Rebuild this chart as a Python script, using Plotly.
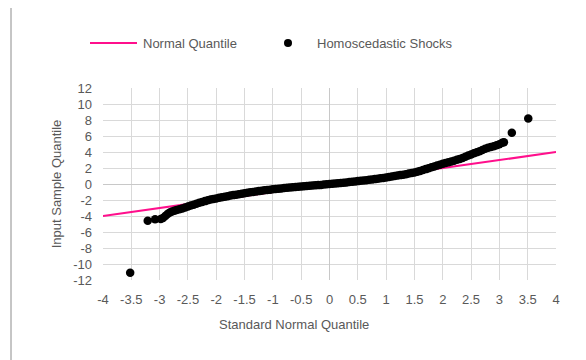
import plotly.graph_objects as go

# Normal reference line endpoints (theoretical quantile = sample quantile)
normal_x = [-4, 4]
normal_y = [-4, 4]

# Homoscedastic shocks: (standard normal quantile, input sample quantile)
shock_x = [
    -3.52, -3.21, -3.08, -2.98, -2.94, -2.90, -2.86, -2.82, -2.78, -2.74, -2.70, -2.65,
    -2.60, -2.55, -2.50, -2.45, -2.40, -2.35, -2.30, -2.25, -2.20, -2.15, -2.10, -2.05,
    -2.00, -1.95, -1.90, -1.85, -1.80, -1.75, -1.70, -1.65, -1.60, -1.55, -1.50, -1.45,
    -1.40, -1.35, -1.30, -1.25, -1.20, -1.15, -1.10, -1.05, -1.00, -0.95, -0.90, -0.85,
    -0.80, -0.75, -0.70, -0.65, -0.60, -0.55, -0.50, -0.45, -0.40, -0.35, -0.30, -0.25,
    -0.20, -0.15, -0.10, -0.05, 0.00, 0.05, 0.10, 0.15, 0.20, 0.25, 0.30, 0.35,
    0.40, 0.45, 0.50, 0.55, 0.60, 0.65, 0.70, 0.75, 0.80, 0.85, 0.90, 0.95,
    1.00, 1.05, 1.10, 1.15, 1.20, 1.25, 1.30, 1.35, 1.40, 1.45, 1.50, 1.55,
    1.60, 1.65, 1.70, 1.75, 1.80, 1.85, 1.90, 1.95, 2.00, 2.05, 2.10, 2.15,
    2.20, 2.25, 2.30, 2.35, 2.40, 2.45, 2.50, 2.55, 2.60, 2.65, 2.70, 2.75,
    2.80, 2.85, 2.90, 2.95, 3.00, 3.05, 3.08, 3.22, 3.51,
]
shock_y = [
    -11.1, -4.60, -4.40, -4.38, -4.25, -4.00, -3.75, -3.55, -3.43, -3.33, -3.25, -3.15,
    -3.05, -2.93, -2.82, -2.70, -2.58, -2.46, -2.35, -2.24, -2.14, -2.04, -1.95, -1.86,
    -1.80, -1.73, -1.66, -1.59, -1.52, -1.45, -1.39, -1.33, -1.27, -1.21, -1.15, -1.09,
    -1.04, -0.99, -0.94, -0.89, -0.84, -0.79, -0.75, -0.71, -0.67, -0.63, -0.59, -0.55,
    -0.51, -0.48, -0.44, -0.41, -0.38, -0.35, -0.32, -0.29, -0.26, -0.23, -0.20, -0.17,
    -0.14, -0.11, -0.07, -0.04, -0.01, 0.02, 0.05, 0.09, 0.12, 0.16, 0.20, 0.24,
    0.28, 0.32, 0.36, 0.40, 0.44, 0.48, 0.52, 0.57, 0.61, 0.66, 0.71, 0.76,
    0.81, 0.87, 0.93, 0.99, 1.05, 1.11, 1.17, 1.23, 1.30, 1.37, 1.45, 1.54,
    1.64, 1.75, 1.86, 1.97, 2.08, 2.19, 2.30, 2.41, 2.52, 2.62, 2.72, 2.82,
    2.92, 3.03, 3.14, 3.26, 3.40, 3.55, 3.70, 3.85, 3.98, 4.10, 4.25, 4.40,
    4.52, 4.62, 4.72, 4.85, 4.98, 5.15, 5.22, 6.40, 8.20,
]

x_tickvals = [-4, -3.5, -3, -2.5, -2, -1.5, -1, -0.5, 0, 0.5, 1, 1.5, 2, 2.5, 3, 3.5, 4]
x_ticktext = ["-4", "-3.5", "-3", "-2.5", "-2", "-1.5", "-1", "-0.5", "0", "0.5", "1",
              "1.5", "2", "2.5", "3", "3.5", "4"]
y_tickvals = [-12, -10, -8, -6, -4, -2, 0, 2, 4, 6, 8, 10, 12]
y_ticktext = ["-12", "-10", "-8", "-6", "-4", "-2", "0", "2", "4", "6", "8", "10", "12"]

PINK = "#ff0f8c"
TXT = "#595959"
GRID = "#d9d9d9"
FONT = "Liberation Sans, Arial, sans-serif"

fig = go.Figure()
fig.add_trace(go.Scatter(
    x=normal_x, y=normal_y, mode="lines", name="Normal Quantile",
    line=dict(color=PINK, width=2.2), showlegend=False, hoverinfo="skip",
))
fig.add_trace(go.Scatter(
    x=shock_x, y=shock_y, mode="markers", name="Homoscedastic Shocks",
    marker=dict(color="black", size=8.5, line=dict(width=0)), showlegend=False,
))

# page offset (default body margin of the html page)
OFF = 8
W, H = 586 - OFF, 360 - OFF
L, R, T, B = 103 - OFF, 30, 88 - OFF, 80
pw, ph = W - L - R, H - T - B


def px(xp):
    # xp: page pixel x in the reference
    return (xp - OFF - L) / pw


def py(yp):
    # yp: page pixel y in the reference
    return (H - B - (yp - OFF)) / ph


fig.update_layout(
    width=W, height=H,
    margin=dict(l=L, r=R, t=T, b=B),
    paper_bgcolor="white", plot_bgcolor="white",
    font=dict(family=FONT, size=13, color=TXT),
    showlegend=False,
    xaxis=dict(
        range=[-4, 4], tickmode="array", tickvals=x_tickvals, ticktext=x_ticktext,
        showgrid=True, gridcolor=GRID, gridwidth=1,
        zeroline=True, zerolinecolor="#c8c8c8", zerolinewidth=1,
        showline=False, ticks="", ticklabelstandoff=10,
        tickfont=dict(size=13, color=TXT),
    ),
    yaxis=dict(
        range=[-12, 12], tickmode="array", tickvals=y_tickvals, ticktext=y_ticktext,
        showgrid=True, gridcolor=GRID, gridwidth=1,
        zeroline=True, zerolinecolor="#c8c8c8", zerolinewidth=1,
        showline=False, ticks="", ticklabelstandoff=10,
        tickfont=dict(size=13, color=TXT),
        title=dict(text="Input Sample Quantile", font=dict(size=13, color=TXT), standoff=8),
    ),
    shapes=[
        # left frame edge
        dict(type="line", xref="paper", yref="paper", x0=px(11), x1=px(11),
             y0=py(400), y1=py(-40), line=dict(color="#8c8c8c", width=1)),
        # legend: line sample
        dict(type="line", xref="paper", yref="paper", x0=px(90), x1=px(137),
             y0=py(43), y1=py(43), line=dict(color=PINK, width=2.2)),
        # legend: marker sample
        dict(type="circle", xref="paper", yref="paper", xsizemode="pixel", ysizemode="pixel",
             xanchor=px(288), yanchor=py(43), x0=-4, x1=4, y0=-4, y1=4,
             fillcolor="black", line=dict(width=0)),
    ],
    annotations=[
        dict(text="Normal Quantile", xref="paper", yref="paper", x=px(141), y=py(43),
             xanchor="left", yanchor="middle", showarrow=False,
             font=dict(size=13, color=TXT)),
        dict(text="Homoscedastic Shocks", xref="paper", yref="paper", x=px(315), y=py(43),
             xanchor="left", yanchor="middle", showarrow=False,
             font=dict(size=13, color=TXT)),
        dict(text="Standard Normal Quantile", xref="paper", yref="paper", x=px(294), y=py(324),
             xanchor="center", yanchor="middle", showarrow=False,
             font=dict(size=13, color=TXT)),
    ],
)

fig.write_html("out.html")
